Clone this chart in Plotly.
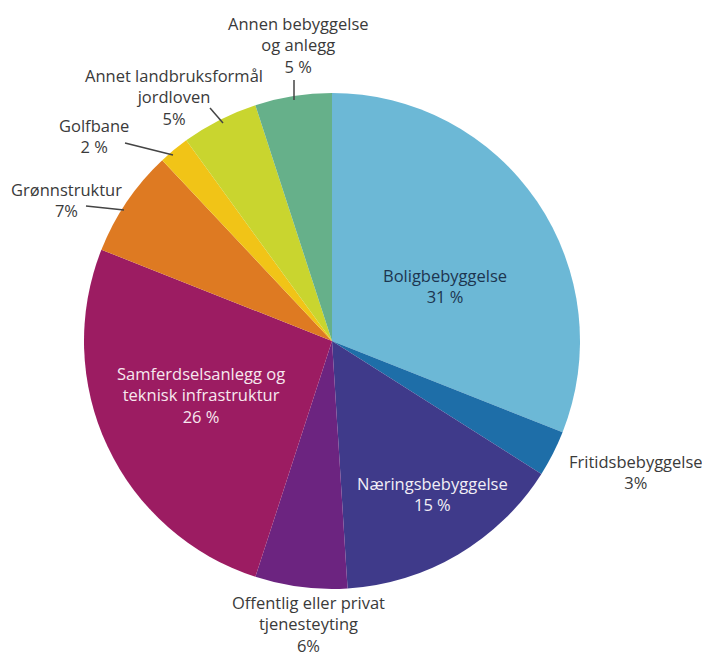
import plotly.graph_objects as go

categories = ["Boligbebyggelse", "Fritidsbebyggelse", "Næringsbebyggelse",
              "Offentlig eller privat tjenesteyting",
              "Samferdselsanlegg og teknisk infrastruktur", "Grønnstruktur",
              "Golfbane", "Annet landbruksformål jordloven",
              "Annen bebyggelse og anlegg"]
values = [31, 3, 15, 6, 26, 7, 2, 5, 5]
label_texts = ["Boligbebyggelse<br>31 %", "Fritidsbebyggelse<br>3%",
               "Næringsbebyggelse<br>15 %",
               "Offentlig eller privat<br>tjenesteyting<br>6%",
               "Samferdselsanlegg og<br>teknisk infrastruktur<br>26 %",
               "Grønnstruktur<br>7%", "Golfbane<br>2 %",
               "Annet landbruksformål<br>jordloven<br>5%",
               "Annen bebyggelse<br>og anlegg<br>5 %"]
colors = ["#6cb8d6", "#1e6ea8", "#3f3a8a", "#6c2480", "#9c1c62",
          "#de7a22", "#f1c417", "#c9d52f", "#66b08a"]

W, H = 710, 663
OFF = 8  # page body margin of the browser
def px(x):
    return (x - OFF) / W
def py(y):
    return 1 - (y - OFF) / H

# label layout (pixel centres in the screenshot) and text colours
label_pos = [(445, 286), (636, 472), (432, 494), (308, 624), (201, 395),
             (66, 200), (94, 136), (174, 97), (298, 45)]
label_col = ["#1d3550", "#3a3a3a", "#f2eef6", "#3a3a3a", "#f7e8ef",
             "#3a3a3a", "#3a3a3a", "#3a3a3a", "#3a3a3a"]
leaders = [((294, 80), (294, 100)), ((210, 108), (223, 123)),
           ((125, 143), (173, 155)), ((86, 206), (124, 210))]

cx, cy, r = 332, 341, 248
fig = go.Figure(go.Pie(
    labels=categories, values=values, sort=False, direction="clockwise",
    rotation=0, marker=dict(colors=colors, line=dict(width=0)),
    textinfo="none", hoverinfo="label+percent", showlegend=False,
    domain=dict(x=[px(cx - r), px(cx + r)], y=[py(cy + r), py(cy - r)]),
))

for txt, (x, y), c in zip(label_texts, label_pos, label_col):
    fig.add_annotation(x=px(x), y=py(y), xref="paper", yref="paper",
                       text=txt, showarrow=False, align="center",
                       xanchor="center", yanchor="middle",
                       font=dict(family="Open Sans", size=16.5, color=c))

for (x0, y0), (x1, y1) in leaders:
    fig.add_shape(type="line", xref="paper", yref="paper",
                  x0=px(x0), y0=py(y0), x1=px(x1), y1=py(y1),
                  line=dict(color="#444444", width=1.5))

fig.update_layout(width=W, height=H, margin=dict(l=0, r=0, t=0, b=0),
                  paper_bgcolor="white", plot_bgcolor="white")
fig.write_html("out.html")
